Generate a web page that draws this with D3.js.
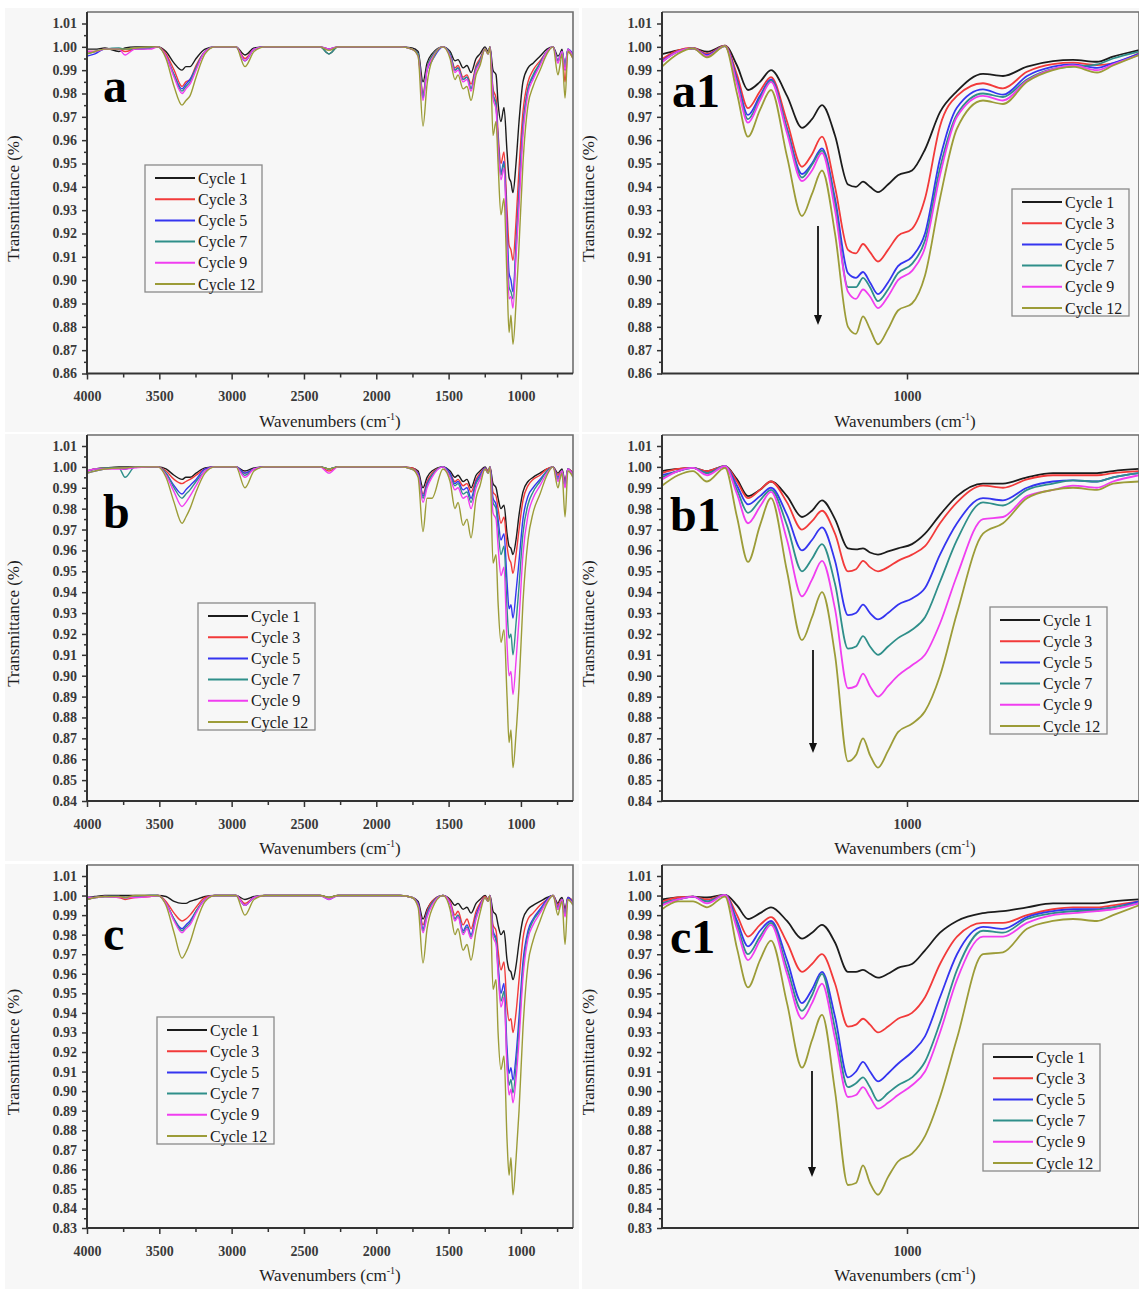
<!DOCTYPE html>
<html>
<head>
<meta charset="utf-8">
<script src="https://cdn.jsdelivr.net/npm/d3@7"></script>
<style>
  body { margin: 0; background: #ffffff; }
  svg { display: block; }
</style>
</head>
<body>
<svg id="chart" width="1139" height="1289"></svg>
<script>
// ---------- shared labels, colours, ticks ----------
const cycleLabels = ["Cycle 1", "Cycle 3", "Cycle 5", "Cycle 7", "Cycle 9", "Cycle 12"];
const cycleColors = ["#1c1c1c", "#f23a3a", "#3535f0", "#2f8f8a", "#f03ef0", "#9c9c38"];

const fullXTicks = [4000, 3500, 3000, 2500, 2000, 1500, 1000];
const fullXMinorTicks = [3750, 3250, 2750, 2250, 1750, 1250, 750];
const zoomXTicks = [1000];

const yTicksA = [0.86, 0.87, 0.88, 0.89, 0.90, 0.91, 0.92, 0.93, 0.94, 0.95, 0.96, 0.97, 0.98, 0.99, 1.00, 1.01];
const yTicksB = [0.84, 0.85, 0.86, 0.87, 0.88, 0.89, 0.90, 0.91, 0.92, 0.93, 0.94, 0.95, 0.96, 0.97, 0.98, 0.99, 1.00, 1.01];
const yTicksC = [0.83, 0.84, 0.85, 0.86, 0.87, 0.88, 0.89, 0.90, 0.91, 0.92, 0.93, 0.94, 0.95, 0.96, 0.97, 0.98, 0.99, 1.00, 1.01];

// ---------- wavenumber grids (cm-1) ----------
const fullWavenumbers = [4000, 3945, 3876, 3779, 3737, 3668, 3564, 3509, 3454, 3398,
  3343, 3316, 3288, 3246, 3184, 3115, 2970, 2908, 2845, 2769,
  2389, 2327, 2265, 1836, 1753, 1711, 1677, 1649, 1615, 1539,
  1490, 1456, 1435, 1400, 1373, 1345, 1310, 1283, 1248, 1227,
  1214, 1193, 1172, 1158, 1138, 1117, 1096, 1082, 1069, 1055,
  1034, 1013, 986, 951, 916, 868, 820, 778, 744, 730,
  716, 695, 675, 640];

const zoomWavenumbers = [1245, 1229, 1214, 1200, 1182, 1170, 1159, 1147, 1136, 1120,
  1105, 1095, 1085, 1072, 1059, 1051, 1044, 1037, 1029, 1019,
  1009, 995, 982, 967, 950, 924, 904, 880, 854, 834,
  810, 794, 768];

// ---------- sample a: full range ----------
const aCycle1 = [0.999, 0.999, 0.9995, 0.998, 0.9995, 1.0, 1.0, 1.0, 0.998, 0.993,
  0.990, 0.9915, 0.9915, 0.995, 0.999, 1.0, 1.0, 0.9965, 0.9995, 1.0,
  1.0, 0.997, 1.0, 1.0, 0.9995, 0.998, 0.985, 0.993, 0.997, 1.0,
  0.998, 0.994, 0.9945, 0.991, 0.992, 0.989, 0.995, 0.997, 1.0, 0.998,
  1.0, 0.990, 0.988, 0.976, 0.968, 0.974, 0.955, 0.944, 0.942, 0.9375,
  0.950, 0.968, 0.985, 0.991, 0.993, 0.996, 0.999, 1.0, 0.996, 0.997,
  0.999, 0.990, 0.999, 0.996];
const aCycle3 = [0.998, 0.998, 0.999, 0.999, 0.998, 0.999, 0.9995, 1.0, 0.997, 0.990,
  0.983, 0.985, 0.986, 0.992, 0.998, 1.0, 1.0, 0.995, 0.999, 1.0,
  1.0, 0.999, 1.0, 1.0, 0.999, 0.997, 0.980, 0.991, 0.996, 1.0,
  0.997, 0.991, 0.992, 0.987, 0.988, 0.984, 0.992, 0.995, 0.999, 0.997,
  1.0, 0.982, 0.978, 0.963, 0.950, 0.955, 0.930, 0.915, 0.913, 0.9085,
  0.925, 0.948, 0.972, 0.985, 0.990, 0.994, 0.998, 1.0, 0.994, 0.995,
  0.997, 0.985, 0.998, 0.995];
const aCycle5 = [0.996, 0.997, 0.999, 0.999, 0.999, 0.999, 0.9995, 1.0, 0.996, 0.988,
  0.982, 0.984, 0.986, 0.991, 0.998, 1.0, 1.0, 0.994, 0.999, 1.0,
  1.0, 0.999, 1.0, 1.0, 0.999, 0.997, 0.978, 0.990, 0.994, 1.0,
  0.997, 0.990, 0.991, 0.986, 0.987, 0.982, 0.991, 0.994, 0.999, 0.997,
  1.0, 0.980, 0.975, 0.960, 0.946, 0.951, 0.922, 0.903, 0.900, 0.895,
  0.915, 0.938, 0.966, 0.982, 0.987, 0.993, 0.998, 1.0, 0.994, 0.996,
  0.998, 0.992, 0.999, 0.997];
const aCycle7 = [0.997, 0.998, 0.999, 0.9995, 0.999, 0.999, 0.9995, 1.0, 0.996, 0.988,
  0.981, 0.983, 0.985, 0.991, 0.998, 1.0, 1.0, 0.994, 0.999, 1.0,
  1.0, 0.997, 1.0, 1.0, 0.999, 0.997, 0.979, 0.991, 0.996, 1.0,
  0.997, 0.990, 0.991, 0.986, 0.987, 0.982, 0.991, 0.994, 0.999, 0.997,
  1.0, 0.980, 0.975, 0.959, 0.945, 0.950, 0.918, 0.897, 0.895, 0.892,
  0.913, 0.936, 0.965, 0.982, 0.988, 0.993, 0.998, 1.0, 0.994, 0.996,
  0.998, 0.992, 0.999, 0.996];
const aCycle9 = [0.998, 0.998, 0.999, 0.999, 0.9965, 0.999, 0.999, 1.0, 0.996, 0.987,
  0.980, 0.982, 0.984, 0.990, 0.998, 1.0, 1.0, 0.994, 0.999, 1.0,
  1.0, 0.999, 1.0, 1.0, 0.999, 0.996, 0.977, 0.990, 0.995, 1.0,
  0.996, 0.989, 0.990, 0.985, 0.986, 0.981, 0.990, 0.993, 0.999, 0.997,
  1.0, 0.978, 0.973, 0.957, 0.943, 0.948, 0.914, 0.892, 0.893, 0.888,
  0.910, 0.932, 0.962, 0.980, 0.986, 0.992, 0.998, 1.0, 0.993, 0.996,
  0.998, 0.990, 0.999, 0.996];
const aCycle12 = [0.997, 0.998, 0.999, 0.999, 0.999, 0.9995, 1.0, 1.0, 0.995, 0.983,
  0.975, 0.977, 0.979, 0.987, 0.997, 1.0, 1.0, 0.9915, 0.998, 1.0,
  1.0, 0.9985, 1.0, 1.0, 0.999, 0.996, 0.966, 0.984, 0.994, 1.0,
  0.995, 0.986, 0.988, 0.982, 0.983, 0.977, 0.988, 0.992, 0.999, 0.997,
  1.0, 0.962, 0.968, 0.950, 0.928, 0.935, 0.900, 0.8776, 0.885, 0.8725,
  0.890, 0.915, 0.950, 0.975, 0.983, 0.990, 0.997, 1.0, 0.988, 0.992,
  0.997, 0.978, 0.998, 0.995];

// ---------- sample b: full range ----------
const bCycle1 = [0.998, 0.999, 0.9995, 1.0, 1.0, 1.0, 1.0, 1.0, 0.999, 0.996,
  0.994, 0.995, 0.995, 0.997, 0.9995, 1.0, 1.0, 0.998, 0.9995, 1.0,
  1.0, 0.999, 1.0, 1.0, 0.9995, 0.998, 0.990, 0.995, 0.998, 1.0,
  0.998, 0.995, 0.996, 0.993, 0.994, 0.990, 0.996, 0.998, 1.0, 0.998,
  1.0, 0.992, 0.990, 0.985, 0.980, 0.9817, 0.968, 0.962, 0.961, 0.958,
  0.965, 0.977, 0.988, 0.993, 0.995, 0.997, 0.999, 1.0, 0.997, 0.998,
  0.999, 0.993, 0.999, 0.997];
const bCycle3 = [0.998, 0.999, 0.9995, 0.9995, 0.999, 1.0, 1.0, 1.0, 0.998, 0.994,
  0.992, 0.993, 0.994, 0.996, 0.999, 1.0, 1.0, 0.997, 0.999, 1.0,
  1.0, 0.998, 1.0, 1.0, 0.9995, 0.997, 0.987, 0.993, 0.997, 1.0,
  0.997, 0.993, 0.994, 0.991, 0.992, 0.988, 0.994, 0.997, 0.9995, 0.998,
  1.0, 0.988, 0.986, 0.980, 0.973, 0.976, 0.962, 0.956, 0.954, 0.949,
  0.958, 0.970, 0.984, 0.991, 0.994, 0.996, 0.999, 1.0, 0.996, 0.997,
  0.998, 0.992, 0.999, 0.997];
const bCycle5 = [0.997, 0.998, 0.999, 0.9995, 0.999, 1.0, 1.0, 1.0, 0.997, 0.991,
  0.987, 0.989, 0.991, 0.994, 0.999, 1.0, 1.0, 0.997, 0.999, 1.0,
  1.0, 0.999, 1.0, 1.0, 0.999, 0.997, 0.986, 0.992, 0.996, 1.0,
  0.997, 0.992, 0.993, 0.989, 0.990, 0.985, 0.993, 0.996, 0.9995, 0.997,
  1.0, 0.985, 0.982, 0.975, 0.965, 0.968, 0.945, 0.932, 0.934, 0.9276,
  0.940, 0.955, 0.975, 0.986, 0.990, 0.994, 0.998, 1.0, 0.995, 0.996,
  0.998, 0.991, 0.999, 0.996];
const bCycle7 = [0.998, 0.999, 0.9995, 0.9995, 0.995, 1.0, 1.0, 1.0, 0.997, 0.990,
  0.985, 0.987, 0.989, 0.993, 0.998, 1.0, 1.0, 0.996, 0.999, 1.0,
  1.0, 0.999, 1.0, 1.0, 0.999, 0.996, 0.985, 0.991, 0.996, 1.0,
  0.996, 0.991, 0.992, 0.987, 0.988, 0.983, 0.992, 0.995, 0.999, 0.997,
  1.0, 0.983, 0.980, 0.970, 0.958, 0.962, 0.932, 0.918, 0.920, 0.910,
  0.925, 0.943, 0.968, 0.982, 0.988, 0.993, 0.998, 1.0, 0.994, 0.996,
  0.998, 0.991, 0.999, 0.996];
const bCycle9 = [0.998, 0.999, 0.999, 0.999, 0.999, 0.9995, 1.0, 1.0, 0.996, 0.988,
  0.981, 0.983, 0.986, 0.991, 0.998, 1.0, 1.0, 0.995, 0.999, 1.0,
  1.0, 0.997, 1.0, 1.0, 0.999, 0.996, 0.983, 0.990, 0.995, 1.0,
  0.995, 0.989, 0.990, 0.985, 0.986, 0.980, 0.990, 0.994, 0.999, 0.997,
  1.0, 0.978, 0.975, 0.962, 0.948, 0.952, 0.915, 0.900, 0.902, 0.891,
  0.907, 0.927, 0.958, 0.977, 0.985, 0.991, 0.997, 1.0, 0.993, 0.996,
  0.998, 0.990, 0.999, 0.996];
const bCycle12 = [0.997, 0.998, 0.999, 0.9995, 0.9995, 1.0, 1.0, 1.0, 0.995, 0.983,
  0.973, 0.976, 0.980, 0.988, 0.997, 1.0, 1.0, 0.990, 0.998, 1.0,
  1.0, 0.999, 1.0, 1.0, 0.999, 0.995, 0.969, 0.985, 0.985, 0.999,
  0.993, 0.980, 0.983, 0.972, 0.975, 0.966, 0.985, 0.991, 0.999, 0.997,
  1.0, 0.954, 0.958, 0.935, 0.916, 0.922, 0.890, 0.868, 0.874, 0.856,
  0.872, 0.895, 0.935, 0.965, 0.978, 0.987, 0.996, 1.0, 0.990, 0.994,
  0.997, 0.976, 0.998, 0.995];

// ---------- sample c: full range ----------
const cCycle1 = [0.999, 0.9995, 1.0, 1.0, 1.0, 1.0, 1.0, 1.0, 0.9995, 0.997,
  0.996, 0.996, 0.997, 0.998, 0.9995, 1.0, 1.0, 0.998, 0.9995, 1.0,
  1.0, 0.999, 1.0, 1.0, 0.999, 0.997, 0.988, 0.993, 0.997, 1.0,
  0.998, 0.995, 0.996, 0.993, 0.994, 0.991, 0.996, 0.998, 1.0, 0.998,
  1.0, 0.992, 0.990, 0.985, 0.980, 0.982, 0.967, 0.962, 0.961, 0.957,
  0.964, 0.976, 0.988, 0.993, 0.995, 0.997, 0.999, 1.0, 0.996, 0.998,
  0.999, 0.993, 0.999, 0.997];
const cCycle3 = [0.998, 0.999, 0.9995, 0.999, 0.998, 0.999, 0.9995, 1.0, 0.997, 0.991,
  0.987, 0.988, 0.990, 0.994, 0.999, 1.0, 1.0, 0.996, 0.999, 1.0,
  1.0, 0.999, 1.0, 1.0, 0.999, 0.996, 0.985, 0.992, 0.997, 1.0,
  0.997, 0.990, 0.992, 0.985, 0.988, 0.983, 0.992, 0.996, 0.9995, 0.998,
  1.0, 0.985, 0.982, 0.972, 0.962, 0.966, 0.943, 0.936, 0.937, 0.930,
  0.940, 0.957, 0.978, 0.988, 0.991, 0.995, 0.998, 1.0, 0.995, 0.997,
  0.998, 0.991, 0.999, 0.997];
const cCycle5 = [0.998, 0.999, 0.9995, 0.9995, 0.999, 0.9995, 1.0, 1.0, 0.996, 0.988,
  0.983, 0.985, 0.987, 0.992, 0.998, 1.0, 1.0, 0.995, 0.999, 1.0,
  1.0, 0.998, 1.0, 1.0, 0.999, 0.996, 0.983, 0.991, 0.996, 1.0,
  0.996, 0.988, 0.990, 0.982, 0.985, 0.980, 0.990, 0.995, 0.999, 0.997,
  1.0, 0.982, 0.978, 0.965, 0.950, 0.955, 0.922, 0.909, 0.912, 0.9057,
  0.918, 0.938, 0.966, 0.982, 0.988, 0.993, 0.998, 1.0, 0.994, 0.996,
  0.998, 0.990, 0.999, 0.996];
const cCycle7 = [0.999, 0.999, 0.9995, 0.9995, 0.999, 0.9995, 1.0, 1.0, 0.996, 0.988,
  0.982, 0.984, 0.986, 0.992, 0.998, 1.0, 1.0, 0.995, 0.999, 1.0,
  1.0, 0.999, 1.0, 1.0, 0.999, 0.995, 0.982, 0.990, 0.996, 1.0,
  0.996, 0.988, 0.990, 0.981, 0.984, 0.979, 0.989, 0.994, 0.999, 0.997,
  1.0, 0.981, 0.977, 0.962, 0.946, 0.951, 0.915, 0.903, 0.906, 0.899,
  0.912, 0.932, 0.962, 0.980, 0.987, 0.992, 0.997, 1.0, 0.993, 0.996,
  0.998, 0.990, 0.998, 0.996];
const cCycle9 = [0.999, 0.999, 0.9995, 0.999, 0.999, 0.999, 0.9995, 1.0, 0.996, 0.987,
  0.981, 0.983, 0.985, 0.991, 0.998, 1.0, 1.0, 0.995, 0.999, 1.0,
  1.0, 0.998, 1.0, 1.0, 0.999, 0.995, 0.981, 0.989, 0.995, 1.0,
  0.996, 0.987, 0.989, 0.980, 0.983, 0.978, 0.988, 0.994, 0.999, 0.997,
  1.0, 0.979, 0.975, 0.960, 0.943, 0.948, 0.912, 0.898, 0.901, 0.894,
  0.906, 0.926, 0.958, 0.978, 0.985, 0.991, 0.997, 1.0, 0.993, 0.996,
  0.998, 0.989, 0.998, 0.996];
const cCycle12 = [0.998, 0.999, 0.9995, 0.9995, 0.999, 1.0, 1.0, 1.0, 0.995, 0.981,
  0.968, 0.971, 0.976, 0.986, 0.997, 1.0, 1.0, 0.990, 0.998, 1.0,
  1.0, 0.999, 1.0, 1.0, 0.999, 0.994, 0.9655, 0.983, 0.993, 1.0,
  0.993, 0.980, 0.983, 0.972, 0.975, 0.967, 0.982, 0.991, 0.999, 0.997,
  1.0, 0.952, 0.957, 0.930, 0.911, 0.918, 0.875, 0.857, 0.866, 0.847,
  0.865, 0.890, 0.932, 0.965, 0.977, 0.987, 0.996, 1.0, 0.990, 0.994,
  0.997, 0.975, 0.998, 0.995];

// ---------- sample a1: fingerprint region ----------
const a1Cycle1 = [0.9969, 0.9985, 0.9994, 0.9979, 1.0005, 0.992, 0.9815, 0.985, 0.990, 0.979,
  0.9653, 0.969, 0.975, 0.962, 0.941, 0.940, 0.9422, 0.940, 0.9377, 0.941,
  0.945, 0.947, 0.956, 0.972, 0.981, 0.9884, 0.9875, 0.9915, 0.9939, 0.9944,
  0.9936, 0.9958, 0.9986];
const a1Cycle3 = [0.9947, 0.9985, 0.9995, 0.997, 1.0005, 0.988, 0.9737, 0.981, 0.987, 0.968,
  0.9486, 0.954, 0.9615, 0.940, 0.913, 0.9115, 0.9155, 0.912, 0.908, 0.913,
  0.919, 0.922, 0.935, 0.966, 0.979, 0.9844, 0.9822, 0.9893, 0.9926, 0.9932,
  0.9922, 0.9929, 0.9972];
const a1Cycle5 = [0.994, 0.998, 0.9993, 0.9965, 1.0003, 0.986, 0.9708, 0.979, 0.986, 0.965,
  0.9455, 0.950, 0.9565, 0.935, 0.903, 0.901, 0.9035, 0.899, 0.894, 0.899,
  0.906, 0.910, 0.920, 0.952, 0.974, 0.9818, 0.9795, 0.9875, 0.9915, 0.9925,
  0.991, 0.993, 0.997];
const a1Cycle7 = [0.9935, 0.998, 0.9993, 0.996, 1.0003, 0.985, 0.969, 0.978, 0.9855, 0.9645,
  0.944, 0.9495, 0.9555, 0.933, 0.897, 0.897, 0.901, 0.897, 0.891, 0.896,
  0.903, 0.907, 0.917, 0.948, 0.971, 0.980, 0.9785, 0.986, 0.9905, 0.9915,
  0.9925, 0.995, 0.998];
const a1Cycle9 = [0.9935, 0.998, 0.9993, 0.996, 1.0003, 0.984, 0.9675, 0.977, 0.985, 0.963,
  0.9425, 0.947, 0.9545, 0.930, 0.895, 0.892, 0.896, 0.893, 0.888, 0.893,
  0.900, 0.904, 0.914, 0.945, 0.970, 0.979, 0.977, 0.9855, 0.9905, 0.992,
  0.990, 0.9925, 0.9965];
const a1Cycle12 = [0.9915, 0.997, 0.9993, 0.9955, 1.0003, 0.980, 0.9615, 0.973, 0.9815, 0.953,
  0.9275, 0.937, 0.947, 0.920, 0.880, 0.877, 0.8845, 0.879, 0.8725, 0.879,
  0.887, 0.890, 0.902, 0.935, 0.965, 0.977, 0.9755, 0.985, 0.990, 0.9915,
  0.989, 0.992, 0.9965];

// ---------- sample b1: fingerprint region ----------
const b1Cycle1 = [0.998, 0.999, 0.9995, 0.998, 1.0003, 0.994, 0.986, 0.989, 0.993, 0.986,
  0.976, 0.979, 0.984, 0.975, 0.961, 0.9605, 0.961, 0.959, 0.958, 0.9595,
  0.961, 0.963, 0.968, 0.977, 0.986, 0.992, 0.992, 0.995, 0.997, 0.997,
  0.997, 0.998, 0.999];
const b1Cycle3 = [0.997, 0.999, 0.9995, 0.998, 1.0003, 0.993, 0.985, 0.989, 0.993, 0.983,
  0.970, 0.974, 0.979, 0.968, 0.950, 0.951, 0.955, 0.952, 0.950, 0.952,
  0.955, 0.958, 0.962, 0.973, 0.983, 0.991, 0.990, 0.994, 0.996, 0.996,
  0.996, 0.997, 0.998];
const b1Cycle5 = [0.996, 0.998, 0.9995, 0.997, 1.0003, 0.991, 0.982, 0.986, 0.990, 0.977,
  0.960, 0.965, 0.971, 0.955, 0.929, 0.930, 0.934, 0.930, 0.927, 0.930,
  0.934, 0.937, 0.942, 0.958, 0.973, 0.985, 0.984, 0.990, 0.993, 0.9935,
  0.993, 0.995, 0.997];
const b1Cycle7 = [0.995, 0.998, 0.9995, 0.997, 1.0003, 0.989, 0.978, 0.984, 0.989, 0.972,
  0.950, 0.956, 0.963, 0.944, 0.913, 0.914, 0.919, 0.914, 0.910, 0.914,
  0.918, 0.922, 0.928, 0.945, 0.965, 0.983, 0.9815, 0.989, 0.992, 0.9935,
  0.993, 0.995, 0.997];
const b1Cycle9 = [0.994, 0.998, 0.9995, 0.996, 1.0003, 0.987, 0.973, 0.981, 0.988, 0.965,
  0.938, 0.946, 0.955, 0.932, 0.894, 0.895, 0.901, 0.895, 0.890, 0.895,
  0.900, 0.905, 0.910, 0.925, 0.948, 0.975, 0.976, 0.986, 0.989, 0.991,
  0.990, 0.993, 0.996];
const b1Cycle12 = [0.991, 0.996, 0.998, 0.993, 0.9995, 0.976, 0.9545, 0.972, 0.985, 0.950,
  0.917, 0.928, 0.940, 0.910, 0.859, 0.862, 0.870, 0.862, 0.856, 0.864,
  0.873, 0.877, 0.883, 0.900, 0.930, 0.968, 0.973, 0.985, 0.989, 0.990,
  0.989, 0.992, 0.993];

// ---------- sample c1: fingerprint region ----------
const c1Cycle1 = [0.998, 0.999, 0.9995, 0.999, 1.0003, 0.995, 0.988, 0.991, 0.994, 0.987,
  0.978, 0.981, 0.985, 0.976, 0.961, 0.961, 0.962, 0.960, 0.958, 0.960,
  0.963, 0.965, 0.972, 0.981, 0.987, 0.991, 0.992, 0.994, 0.996, 0.996,
  0.996, 0.997, 0.998];
const c1Cycle3 = [0.997, 0.999, 0.9995, 0.998, 1.0003, 0.990, 0.979, 0.985, 0.989, 0.976,
  0.961, 0.965, 0.970, 0.955, 0.933, 0.934, 0.937, 0.934, 0.930, 0.933,
  0.937, 0.940, 0.948, 0.965, 0.979, 0.986, 0.986, 0.990, 0.993, 0.994,
  0.994, 0.995, 0.997];
const c1Cycle5 = [0.996, 0.998, 0.9995, 0.997, 1.0003, 0.987, 0.974, 0.982, 0.987, 0.967,
  0.945, 0.952, 0.961, 0.938, 0.907, 0.910, 0.915, 0.910, 0.905, 0.909,
  0.914, 0.920, 0.928, 0.948, 0.970, 0.984, 0.983, 0.989, 0.992, 0.993,
  0.993, 0.994, 0.997];
const c1Cycle7 = [0.996, 0.998, 0.9995, 0.997, 1.0003, 0.985, 0.970, 0.979, 0.986, 0.963,
  0.941, 0.949, 0.960, 0.932, 0.902, 0.904, 0.907, 0.902, 0.895, 0.899,
  0.903, 0.907, 0.915, 0.935, 0.962, 0.982, 0.981, 0.988, 0.991, 0.992,
  0.9925, 0.994, 0.996];
const c1Cycle9 = [0.995, 0.998, 0.9995, 0.996, 1.0003, 0.983, 0.967, 0.977, 0.985, 0.960,
  0.937, 0.945, 0.955, 0.927, 0.897, 0.898, 0.902, 0.897, 0.891, 0.894,
  0.898, 0.903, 0.910, 0.930, 0.957, 0.979, 0.979, 0.986, 0.990, 0.991,
  0.992, 0.993, 0.996];
const c1Cycle12 = [0.993, 0.997, 0.997, 0.994, 0.9995, 0.973, 0.953, 0.967, 0.977, 0.945,
  0.912, 0.926, 0.939, 0.900, 0.852, 0.853, 0.862, 0.853, 0.847, 0.856,
  0.864, 0.868, 0.877, 0.897, 0.927, 0.970, 0.971, 0.983, 0.987, 0.988,
  0.987, 0.990, 0.995];

// ---------- panel layout ----------
const FONT = "'Liberation Serif', 'Times New Roman', Times, serif";

const panels = [
  { id: "a", letter: "a", wn: fullWavenumbers, series: [aCycle1, aCycle3, aCycle5, aCycle7, aCycle9, aCycle12],
    xDomain: [4000, 640], xTicks: fullXTicks, xMinor: fullXMinorTicks, left: 87, right: 573,
    top: 12, yTopPx: 23.5, bottom: 373.5, yTicks: yTicksA, lw: 1.4,
    bg: [5, 8, 574, 424], letterPos: [103, 102], legend: [145, 165], titleX: 330, arrow: null },
  { id: "a1", letter: "a1", wn: zoomWavenumbers, series: [a1Cycle1, a1Cycle3, a1Cycle5, a1Cycle7, a1Cycle9, a1Cycle12],
    xDomain: [1245, 768], xTicks: zoomXTicks, xMinor: [], left: 662, right: 1139,
    top: 12, yTopPx: 23.5, bottom: 373.5, yTicks: yTicksA, lw: 1.8,
    bg: [582, 8, 557, 424], letterPos: [672, 107], legend: [1012, 189], titleX: 905, arrow: [818, 226, 325] },
  { id: "b", letter: "b", wn: fullWavenumbers, series: [bCycle1, bCycle3, bCycle5, bCycle7, bCycle9, bCycle12],
    xDomain: [4000, 640], xTicks: fullXTicks, xMinor: fullXMinorTicks, left: 87, right: 573,
    top: 435, yTopPx: 446, bottom: 801, yTicks: yTicksB, lw: 1.4,
    bg: [5, 434, 574, 427], letterPos: [103, 528], legend: [198, 603], titleX: 330, arrow: null },
  { id: "b1", letter: "b1", wn: zoomWavenumbers, series: [b1Cycle1, b1Cycle3, b1Cycle5, b1Cycle7, b1Cycle9, b1Cycle12],
    xDomain: [1245, 768], xTicks: zoomXTicks, xMinor: [], left: 662, right: 1139,
    top: 435, yTopPx: 446, bottom: 801, yTicks: yTicksB, lw: 1.8,
    bg: [582, 434, 557, 427], letterPos: [670, 531], legend: [990, 607], titleX: 905, arrow: [813, 650, 753] },
  { id: "c", letter: "c", wn: fullWavenumbers, series: [cCycle1, cCycle3, cCycle5, cCycle7, cCycle9, cCycle12],
    xDomain: [4000, 640], xTicks: fullXTicks, xMinor: fullXMinorTicks, left: 87, right: 573,
    top: 865, yTopPx: 876, bottom: 1228, yTicks: yTicksC, lw: 1.4,
    bg: [5, 864, 574, 425], letterPos: [103, 950], legend: [157, 1017], titleX: 330, arrow: null },
  { id: "c1", letter: "c1", wn: zoomWavenumbers, series: [c1Cycle1, c1Cycle3, c1Cycle5, c1Cycle7, c1Cycle9, c1Cycle12],
    xDomain: [1245, 768], xTicks: zoomXTicks, xMinor: [], left: 662, right: 1139,
    top: 865, yTopPx: 876, bottom: 1228, yTicks: yTicksC, lw: 1.8,
    bg: [582, 864, 557, 425], letterPos: [670, 953], legend: [983, 1044], titleX: 905, arrow: [812, 1071, 1177] }
];

const svg = d3.select("#chart");
const defs = svg.append("defs");

function drawPanel(p) {
  const g = svg.append("g").attr("class", "panel-" + p.id);

  const x = d3.scaleLinear().domain(p.xDomain).range([p.left, p.right]);
  const y = d3.scaleLinear()
    .domain([p.yTicks[0], p.yTicks[p.yTicks.length - 1]])
    .range([p.bottom, p.yTopPx]);

  // panel background
  g.append("rect")
    .attr("x", p.bg[0]).attr("y", p.bg[1]).attr("width", p.bg[2]).attr("height", p.bg[3])
    .attr("fill", "#f7f7f7");

  // plot clip
  const clipId = "clip-" + p.id;
  defs.append("clipPath").attr("id", clipId).append("rect")
    .attr("x", p.left).attr("y", p.top)
    .attr("width", p.right - p.left).attr("height", p.bottom - p.top);

  // spectra
  const line = d3.line()
    .x((d, i) => x(p.wn[i]))
    .y(d => y(d))
    .curve(d3.curveMonotoneX);

  g.append("g").attr("clip-path", `url(#${clipId})`)
    .selectAll("path")
    .data(p.series)
    .join("path")
    .attr("d", line)
    .attr("fill", "none")
    .attr("stroke", (d, i) => cycleColors[i])
    .attr("stroke-width", p.lw)
    .attr("stroke-linejoin", "round");

  // frame: light top/right edges, darker axes
  g.append("path")
    .attr("d", `M${p.left},${p.top}H${p.right}V${p.bottom}`)
    .attr("fill", "none").attr("stroke", "#6e6e6e").attr("stroke-width", 1.6);

  // y axis
  const yMinor = p.yTicks.slice(0, -1).map(v => v + 0.005);
  g.append("g").attr("transform", `translate(${p.left},0)`)
    .call(d3.axisLeft(y).tickValues(yMinor).tickSize(3).tickSizeOuter(0).tickFormat(""))
    .call(s => s.select(".domain").remove());
  const yAxis = g.append("g").attr("transform", `translate(${p.left},0)`)
    .call(d3.axisLeft(y).tickValues(p.yTicks).tickSize(5).tickSizeOuter(0).tickPadding(5).tickFormat(d3.format(".2f")));
  yAxis.select(".domain").remove();

  // x axis
  if (p.xMinor.length) {
    g.append("g").attr("transform", `translate(0,${p.bottom})`)
      .call(d3.axisBottom(x).tickValues(p.xMinor).tickSize(4).tickSizeOuter(0).tickFormat(""))
      .call(s => s.select(".domain").remove());
  }
  const xAxis = g.append("g").attr("transform", `translate(0,${p.bottom})`)
    .call(d3.axisBottom(x).tickValues(p.xTicks).tickSize(6).tickSizeOuter(0).tickPadding(12).tickFormat(d3.format("d")));
  xAxis.select(".domain").remove();

  g.selectAll(".tick line").attr("stroke", "#333").attr("stroke-width", 1.5);
  g.selectAll(".tick text")
    .attr("font-family", FONT).attr("font-size", 14).attr("font-weight", "bold").attr("fill", "#3a3a3a");

  // axis lines
  g.append("path")
    .attr("d", `M${p.left},${p.top}V${p.bottom}H${p.right}`)
    .attr("fill", "none").attr("stroke", "#333").attr("stroke-width", 2);

  // axis titles
  const xt = g.append("text")
    .attr("x", p.titleX).attr("y", p.bottom + 53)
    .attr("text-anchor", "middle")
    .attr("font-family", FONT).attr("font-size", 17).attr("fill", "#1e1e1e");
  xt.append("tspan").text("Wavenumbers (cm");
  xt.append("tspan").attr("dy", -7).attr("font-size", 10).text("-1");
  xt.append("tspan").attr("dy", 7).text(")");

  g.append("text")
    .attr("transform", `translate(${p.left - 68},${(p.yTopPx + p.bottom) / 2}) rotate(-90)`)
    .attr("text-anchor", "middle")
    .attr("font-family", FONT).attr("font-size", 17).attr("fill", "#1e1e1e")
    .text("Transmittance (%)");

  // panel letter
  g.append("text")
    .attr("x", p.letterPos[0]).attr("y", p.letterPos[1])
    .attr("font-family", FONT).attr("font-size", 48).attr("font-weight", "bold").attr("fill", "#000")
    .text(p.letter);

  // legend
  const lg = g.append("g").attr("transform", `translate(${p.legend[0]},${p.legend[1]})`);
  lg.append("rect").attr("width", 117).attr("height", 127)
    .attr("fill", "#f7f7f7").attr("stroke", "#8a8a8a").attr("stroke-width", 1.3);
  const rows = lg.selectAll("g.row").data(cycleLabels).join("g")
    .attr("class", "row")
    .attr("transform", (d, i) => `translate(0,${13 + i * 21.2})`);
  rows.append("line").attr("x1", 10).attr("x2", 50)
    .attr("stroke", (d, i) => cycleColors[i]).attr("stroke-width", 2);
  rows.append("text").attr("x", 53).attr("dy", "0.35em")
    .attr("font-family", FONT).attr("font-size", 16).attr("fill", "#1a1a1a")
    .text(d => d);

  // trend arrow
  if (p.arrow) {
    const [ax, y1, y2] = p.arrow;
    g.append("line").attr("x1", ax).attr("x2", ax).attr("y1", y1).attr("y2", y2 - 8)
      .attr("stroke", "#111").attr("stroke-width", 1.8);
    g.append("path")
      .attr("d", `M${ax - 4},${y2 - 10}L${ax + 4},${y2 - 10}L${ax},${y2}Z`)
      .attr("fill", "#111");
  }
}

panels.forEach(drawPanel);
</script>
</body>
</html>
